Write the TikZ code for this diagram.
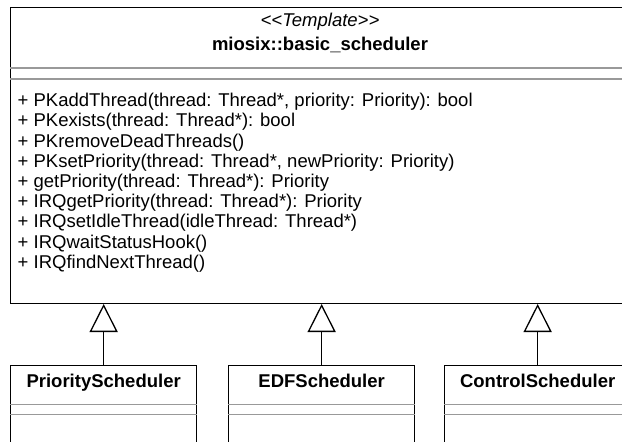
\documentclass[tikz,border=0pt]{standalone}
\usepackage{fontspec}
\setmainfont{Liberation Sans}
\usetikzlibrary{arrows.meta}
\begin{document}
\begin{tikzpicture}[x=1pt,y=-1pt,
  txt/.style={inner sep=0pt, font=\fontsize{18.5}{20}\selectfont},
  ttl/.style={inner sep=0pt, font=\fontsize{18.5}{20}\selectfont\bfseries},
  classbox/.style={draw=black, line width=1.3pt, fill=white, anchor=north west, inner sep=0pt},
  sepline/.style={draw=black!40, line width=1.1pt},
  inherit/.style={-{Triangle[open,length=28pt,width=28pt,fill=white]}, line width=1.3pt}]
\useasboundingbox (0,0) rectangle (622,442);
\clip (0,0) rectangle (622,442);
\fill[white] (0,0) rectangle (622,442);
% base class
\node[classbox, minimum width=620pt, minimum height=295.7pt] (base) at (10,7) {};
\draw[sepline] (base.west |- 0,68) -- (base.east |- 0,68);
\draw[sepline] (base.west |- 0,79) -- (base.east |- 0,79);
\node[txt, anchor=base, font=\fontsize{18.5}{20}\selectfont\itshape] (stereo) at (320,26.6) {<{}<Template>{}>};
\node[ttl, anchor=base] (bname) at (320,50.6) {miosix::basic\_scheduler};
\node[txt, anchor=base west] (op1) at (17.5,106.6) {+ PKaddThread(thread: Thread*, priority: Priority): bool};
\node[txt, anchor=base west] (op2) at (17.5,126.8) {+ PKexists(thread: Thread*): bool};
\node[txt, anchor=base west] (op3) at (17.5,147.0) {+ PKremoveDeadThreads()};
\node[txt, anchor=base west] (op4) at (17.5,167.2) {+ PKsetPriority(thread: Thread*, newPriority: Priority)};
\node[txt, anchor=base west] (op5) at (17.5,187.4) {+ getPriority(thread: Thread*): Priority};
\node[txt, anchor=base west] (op6) at (17.5,207.6) {+ IRQgetPriority(thread: Thread*): Priority};
\node[txt, anchor=base west] (op7) at (17.5,227.8) {+ IRQsetIdleThread(idleThread: Thread*)};
\node[txt, anchor=base west] (op8) at (17.5,248.0) {+ IRQwaitStatusHook()};
\node[txt, anchor=base west] (op9) at (17.5,268.2) {+ IRQfindNextThread()};
% derived classes
\node[classbox, minimum width=186pt, minimum height=120pt] (prio) at (10,365) {};
\node[classbox, minimum width=186pt, minimum height=120pt] (edf) at (228,365) {};
\node[classbox, minimum width=186pt, minimum height=120pt] (ctrl) at (444,365) {};
\foreach \c/\t in {prio/PriorityScheduler, edf/EDFScheduler, ctrl/ControlScheduler}{
  \node[ttl, anchor=base] (\c-name) at ([yshift=-22.6pt]\c.north) {\t};
  \draw[sepline] ([yshift=-39.3pt]\c.north west) -- ([yshift=-39.3pt]\c.north east);
  \draw[sepline] ([yshift=-49.7pt]\c.north west) -- ([yshift=-49.7pt]\c.north east);
}
% generalisations
\draw[inherit] (prio.north) -- (prio.north |- base.south);
\draw[inherit] (edf.north) -- (edf.north |- base.south);
\draw[inherit] (ctrl.north) -- (ctrl.north |- base.south);
\end{tikzpicture}
\end{document}
